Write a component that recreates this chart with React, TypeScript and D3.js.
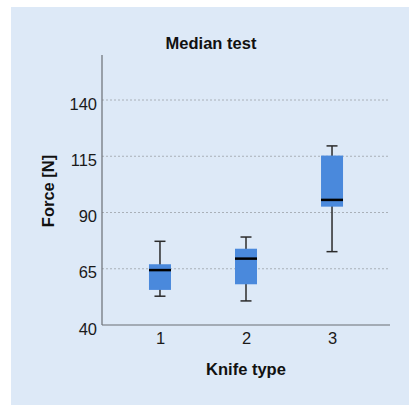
import { useEffect, useRef } from "react";
import * as d3 from "d3";

const knifeTypes = ["1", "2", "3"];
const whiskerLow = [52.8, 50.7, 72.6];
const quartile1 = [55.6, 58.1, 92.6];
const medians = [64.4, 69.5, 95.6];
const quartile3 = [67.0, 73.9, 115.3];
const whiskerHigh = [77.2, 79.1, 119.6];
const yTicks = [40, 65, 90, 115, 140];

const App = () => {
  const svgRef = useRef<SVGSVGElement | null>(null);

  useEffect(() => {
    if (!svgRef.current) return;
    const width = 409;
    const height = 405;
    const left = 102;
    const right = 390;
    const top = 55;
    const bottom = 325;
    const font = "'Liberation Sans', Arial, sans-serif";

    const svg = d3.select(svgRef.current);
    svg.selectAll("*").remove();
    svg.attr("width", width).attr("height", height);

    svg
      .append("rect")
      .attr("x", 11)
      .attr("y", 7)
      .attr("width", width - 11)
      .attr("height", height - 7)
      .attr("fill", "#dde9f7");

    const x = d3.scalePoint<string>().domain(knifeTypes).range([left, right]).padding(0.674);
    const y = d3.scaleLinear().domain([40, 160]).range([bottom, top]);

    // grid
    svg
      .append("g")
      .selectAll("line")
      .data(yTicks.filter((t) => t > 40))
      .join("line")
      .attr("x1", left)
      .attr("x2", right)
      .attr("y1", (d) => y(d))
      .attr("y2", (d) => y(d))
      .attr("stroke", "#a9b0b8")
      .attr("stroke-width", 1)
      .attr("stroke-dasharray", "2,2");

    const boxW = 22;
    const capW = 11;
    const boxes = svg
      .append("g")
      .selectAll("g")
      .data(knifeTypes.map((k, i) => ({ k, i })))
      .join("g");

    boxes
      .append("line")
      .attr("x1", (d) => x(d.k)!)
      .attr("x2", (d) => x(d.k)!)
      .attr("y1", (d) => y(whiskerHigh[d.i]))
      .attr("y2", (d) => y(whiskerLow[d.i]))
      .attr("stroke", "#2b2b2b")
      .attr("stroke-width", 1.5);

    [whiskerHigh, whiskerLow].forEach((arr) => {
      boxes
        .append("line")
        .attr("x1", (d) => x(d.k)! - capW / 2)
        .attr("x2", (d) => x(d.k)! + capW / 2)
        .attr("y1", (d) => y(arr[d.i]))
        .attr("y2", (d) => y(arr[d.i]))
        .attr("stroke", "#2b2b2b")
        .attr("stroke-width", 1.5);
    });

    boxes
      .append("rect")
      .attr("x", (d) => x(d.k)! - boxW / 2)
      .attr("y", (d) => y(quartile3[d.i]))
      .attr("width", boxW)
      .attr("height", (d) => y(quartile1[d.i]) - y(quartile3[d.i]))
      .attr("fill", "#4a89dc");

    boxes
      .append("line")
      .attr("x1", (d) => x(d.k)! - boxW / 2)
      .attr("x2", (d) => x(d.k)! + boxW / 2)
      .attr("y1", (d) => y(medians[d.i]))
      .attr("y2", (d) => y(medians[d.i]))
      .attr("stroke", "#000")
      .attr("stroke-width", 2.5);

    // axes
    const axisLeft = d3.axisLeft(y).tickValues(yTicks).tickSize(0).tickPadding(5);
    svg
      .append("g")
      .attr("transform", `translate(${left},0)`)
      .call(axisLeft)
      .call((a) => a.select(".domain").remove())
      .call((a) =>
        a
          .selectAll("text")
          .attr("fill", "#1a1a1a")
          .attr("font-size", 16.5)
          .attr("font-family", font)
          .attr("dy", "0.55em")
      );

    const axisBottom = d3.axisBottom(x).tickSize(0).tickPadding(7);
    svg
      .append("g")
      .attr("transform", `translate(0,${bottom})`)
      .call(axisBottom)
      .call((a) => a.select(".domain").remove())
      .call((a) =>
        a.selectAll("text").attr("fill", "#1a1a1a").attr("font-size", 16.5).attr("font-family", font)
      );

    svg
      .append("line")
      .attr("x1", left)
      .attr("x2", left)
      .attr("y1", top)
      .attr("y2", bottom)
      .attr("stroke", "#6b6f75")
      .attr("stroke-width", 1.2);
    svg
      .append("line")
      .attr("x1", left)
      .attr("x2", right)
      .attr("y1", bottom)
      .attr("y2", bottom)
      .attr("stroke", "#6b6f75")
      .attr("stroke-width", 1.2);

    svg
      .append("text")
      .attr("x", 211)
      .attr("y", 49)
      .attr("text-anchor", "middle")
      .attr("font-family", font)
      .attr("font-weight", "bold")
      .attr("font-size", 16.5)
      .attr("fill", "#111")
      .text("Median test");

    svg
      .append("text")
      .attr("x", 246)
      .attr("y", 375)
      .attr("text-anchor", "middle")
      .attr("font-family", font)
      .attr("font-weight", "bold")
      .attr("font-size", 16.5)
      .attr("fill", "#111")
      .text("Knife type");

    svg
      .append("text")
      .attr("transform", `translate(54,191) rotate(-90)`)
      .attr("text-anchor", "middle")
      .attr("font-family", font)
      .attr("font-weight", "bold")
      .attr("font-size", 16.5)
      .attr("fill", "#111")
      .text("Force [N]");
  }, []);

  return (
    <svg
      ref={svgRef}
      style={{ position: "absolute", left: 0, top: 0, display: "block" }}
    />
  );
};

export default App;
